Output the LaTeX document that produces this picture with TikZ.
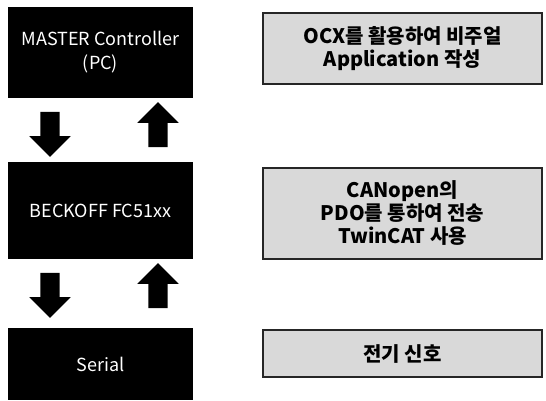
\documentclass[tikz,border=0pt]{standalone}
\usepackage{fontspec}
\setmainfont{Noto Sans CJK KR}
\usetikzlibrary{positioning, shapes.arrows}
\definecolor{BoxGray}{HTML}{D9D9D9}
\definecolor{EdgeGray}{HTML}{262626}

\begin{document}
\begin{tikzpicture}[x=1pt, y=1pt,
      blackbox/.style={fill=black, text=white, minimum width=185pt, inner sep=0pt,
                       align=center, font=\fontsize{18}{24}\selectfont},
      graybox/.style={draw=EdgeGray, line width=1.5pt, fill=BoxGray, minimum width=279pt,
                      inner sep=0pt, align=center, font=\fontsize{20}{23}\selectfont\bfseries},
      blockarrow/.style={single arrow, fill=black, inner sep=9.5pt, minimum height=45pt,
                         minimum width=41pt, single arrow head extend=11pt,
                         single arrow head indent=0pt}]
      \useasboundingbox (0,0) rectangle (546,-400);
      % Layers
      \node[blackbox, minimum height=91pt] (master)  at (100.5,-52.5) {MASTER Controller\\(PC)};
      \node[blackbox, minimum height=97pt] (beckoff) at (100.5,-210.5) {BECKOFF FC51xx};
      \node[blackbox, minimum height=72pt] (serial)  at (100.5,-364) {Serial};
      % Descriptions
      \node[graybox, minimum height=71pt] (ocx)  at (402.5,-48.5)  {OCX를 활용하여 비주얼\\Application 작성};
      \node[graybox, minimum height=91pt] (pdo)  at (402.5,-213.5) {CANopen의\\PDO를 통하여 전송\\TwinCAT 사용};
      \node[graybox, minimum height=47pt] (elec) at (402.5,-353.5) {전기 신호};
      % Arrows between layers
      \node[blockarrow, shape border rotate=270] (down1) at (50,-129.5)  {};
      \node[blockarrow, shape border rotate=90]  (up1)   at (158,-129.5) {};
      \node[blockarrow, shape border rotate=270] (down2) at (50,-290.5)  {};
      \node[blockarrow, shape border rotate=90]  (up2)   at (158,-290.5) {};
    \end{tikzpicture}
\end{document}
